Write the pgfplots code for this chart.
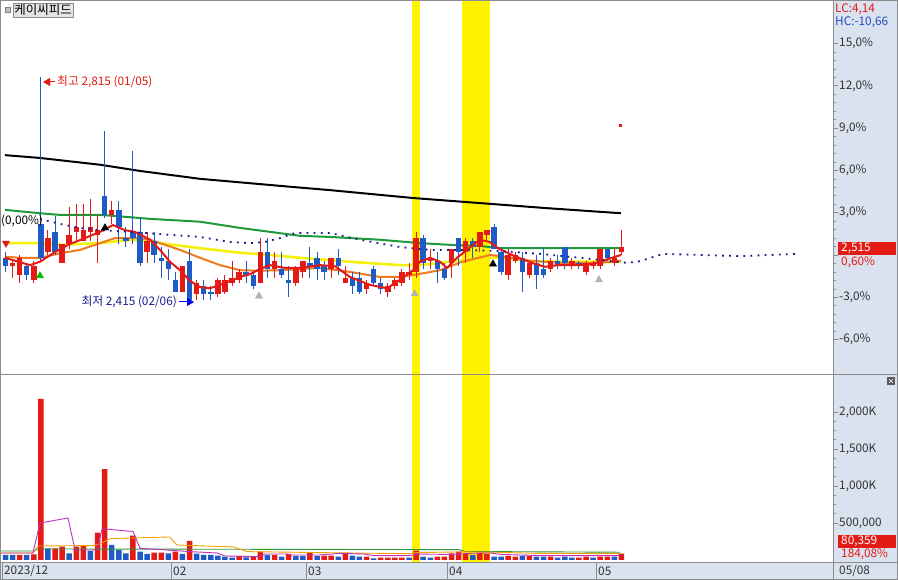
\documentclass[border=0pt]{standalone}
\usepackage{pgfplots}
\pgfplotsset{compat=1.18}
\usepackage{pgfplotstable}
\usetikzlibrary{arrows.meta}
\usepackage{fontspec}
\setmainfont{Noto Sans CJK KR}
\definecolor{cred}{HTML}{E41A14}
\definecolor{cblue}{HTML}{1F5BC6}
\definecolor{stripbg}{HTML}{D9E2EE}
\definecolor{frame}{HTML}{8C8C8C}
\definecolor{labgray}{HTML}{333333}
\definecolor{maorange}{HTML}{F07A1E}
\definecolor{mayellow}{HTML}{F5F20A}
\definecolor{magreen}{HTML}{1E9A3C}
\definecolor{navy}{HTML}{1A1A8C}
\definecolor{hcblue}{HTML}{2050C0}
\definecolor{vmag}{HTML}{C030C0}
\definecolor{vorange}{HTML}{F0A000}
\definecolor{vgreen}{HTML}{2E9A3A}

\pgfplotstableread{
i O H L C
1 2480 2490 2460 2485
2 2465 2500 2450 2495
4 2455 2490 2450 2480
6 2505 2545 2500 2530
8 2485 2520 2485 2520
9 2520 2585 2510 2535
10 2540 2590 2525 2550
11 2525 2590 2525 2545
12 2540 2600 2525 2550
13 2535 2570 2485 2545
15 2570 2595 2555 2580
20 2505 2540 2485 2525
25 2435 2480 2435 2480
27 2430 2455 2420 2450
30 2430 2460 2425 2455
31 2435 2465 2430 2455
32 2450 2490 2445 2460
33 2455 2475 2450 2470
36 2450 2530 2450 2505
38 2475 2505 2460 2490
41 2450 2480 2445 2475
42 2470 2490 2460 2490
46 2475 2495 2460 2495
48 2450 2480 2450 2460
51 2440 2455 2430 2450
54 2435 2450 2425 2445
55 2445 2460 2440 2455
56 2450 2475 2445 2470
57 2465 2485 2455 2470
58 2470 2540 2460 2530
60 2490 2510 2475 2495
63 2485 2510 2460 2510
65 2505 2530 2485 2525
67 2515 2540 2505 2540
68 2535 2545 2525 2545
71 2465 2510 2455 2500
72 2490 2505 2485 2500
74 2465 2490 2460 2485
77 2475 2495 2470 2490
80 2480 2495 2475 2490
82 2470 2490 2465 2485
83 2480 2490 2475 2485
84 2480 2510 2475 2510
86 2485 2510 2480 2495
87 2505 2545 2500 2515
}\upT

\pgfplotstableread{
i O H L C
0 2495 2505 2470 2480
3 2480 2485 2455 2465
5 2555 2815 2490 2495
7 2540 2570 2500 2505
14 2605 2720 2565 2570
16 2580 2595 2520 2550
17 2530 2550 2515 2525
18 2540 2685 2520 2530
19 2540 2565 2480 2485
21 2525 2540 2485 2500
22 2495 2515 2460 2490
23 2490 2510 2455 2475
24 2455 2470 2435 2435
26 2490 2510 2415 2420
28 2445 2455 2420 2430
29 2435 2445 2420 2430
34 2470 2490 2450 2465
35 2465 2470 2440 2445
37 2505 2530 2460 2475
39 2475 2505 2460 2465
40 2455 2480 2425 2450
43 2485 2515 2460 2480
44 2495 2505 2455 2475
45 2480 2490 2455 2470
47 2495 2510 2465 2480
49 2460 2470 2430 2445
50 2460 2470 2430 2435
52 2475 2480 2445 2450
53 2450 2460 2430 2440
59 2530 2535 2475 2485
61 2490 2505 2450 2475
62 2475 2485 2455 2460
64 2530 2530 2480 2505
66 2525 2530 2495 2515
69 2550 2555 2510 2510
70 2505 2515 2465 2470
73 2495 2505 2435 2470
75 2485 2500 2440 2465
76 2475 2515 2460 2465
78 2490 2500 2475 2480
79 2515 2515 2475 2485
81 2485 2490 2475 2480
85 2510 2510 2490 2495
}\downT

\pgfplotstableread{
i v
2 68
4 77
5 2175
7 158
8 180
10 180
11 194
13 369
14 1229
18 329
21 99
22 99
24 113
26 257
33 54
35 45
36 113
38 68
40 81
43 97
45 59
46 59
48 97
51 45
53 32
54 32
55 32
56 32
58 126
61 45
62 45
63 90
64 113
65 81
67 97
68 81
71 54
72 45
74 54
77 45
81 32
82 45
84 45
85 45
87 85
}\volR

\pgfplotstableread{
i v
0 68
1 68
3 68
6 158
9 90
12 122
15 203
16 135
17 90
19 113
20 81
23 90
25 81
27 86
28 68
29 68
30 59
31 45
32 32
34 36
37 68
39 45
41 54
42 54
44 54
47 45
49 59
50 45
52 23
57 32
59 45
60 32
66 68
69 45
70 45
73 54
75 45
76 45
78 32
79 45
80 32
83 32
86 45
}\volB

\pgfplotsset{
  candlewick/.style={draw=none, mark=none, forget plot,
    error bars/.cd, y dir=both, y explicit, error mark=none,
    error bar style={draw=#1, line width=1pt, solid}},
  candlebody/.style={draw=none, mark=none, forget plot,
    error bars/.cd, y dir=both, y explicit, error mark=none,
    error bar style={draw=#1, line width=5.5pt, solid}},
}
\newcommand{\lblfont}{\fontsize{11.8}{13}\selectfont}

\begin{document}
\begin{tikzpicture}[x=1pt,y=1pt]
\useasboundingbox (0,0) rectangle (898,580);
\fill[white] (0,0) rectangle (898,580);
\fill[stripbg] (833,0) rectangle (898,580);
\fill[stripbg] (0,0) rectangle (833,18);

% ---------------- price pane ----------------
\begin{axis}[at={(0pt,579pt)}, anchor=north west, scale only axis,
  width=833pt, height=373pt,
  xmin=-0.777, xmax=116.88, ymin=2289, ymax=2950.3,
  axis x line=none, axis y line*=right,
  axis line style={draw=frame, line width=0.8pt},
  ytick={2350,2425,2500,2575,2650,2725,2800,2875},
  yticklabels={{-6,0\%},{-3,0\%},{},{3,0\%},{6,0\%},{9,0\%},{12,0\%},{15,0\%}},
  minor y tick num=4,
  tick align=outside, major tick length=5pt, minor tick length=3pt,
  every tick/.style={draw=frame, line width=0.6pt},
  yticklabel style={font=\lblfont, text=labgray, inner sep=1pt},
  clip=true]
% highlight bands
\addplot[fill=yellow, draw=none, forget plot] coordinates {(57.4,2280) (58.5,2280) (58.5,2960) (57.4,2960)} -- cycle;
\addplot[fill=yellow, draw=none, forget plot] coordinates {(64.5,2280) (68.45,2280) (68.45,2960) (64.5,2960)} -- cycle;
% long MA lines
\addplot[black, line width=2pt] coordinates {(-0.07,2677) (4.87,2672) (13.35,2660) (19,2649) (27.47,2635) (40.18,2621) (45.83,2615) (57.56,2601) (67.02,2592) (76.48,2583) (86.93,2574)};
\addplot[magreen, line width=2pt] coordinates {(-0.07,2580) (4.87,2574) (7.7,2571) (13.35,2571) (17.59,2567) (20.41,2564) (27.47,2559) (33.12,2548) (37.36,2541) (41.59,2534) (45.83,2532) (52.9,2527) (58.55,2521) (62.78,2518) (67.02,2516) (69.84,2512) (78.32,2512) (86.93,2512)};
\addplot[mayellow, line width=2.6pt] coordinates {(-0.07,2521) (4.87,2521) (7.7,2518) (13.35,2521) (17.59,2527) (21.82,2521) (27.47,2512) (33.12,2504) (37.36,2500) (41.59,2495) (48.66,2488) (55.72,2482) (58.55,2482) (62.78,2488) (67.02,2495) (69.84,2495) (74.08,2489) (78.32,2488) (86.93,2488)};
\addplot[maorange, line width=2pt] coordinates {(-0.07,2497) (2.05,2495) (4.87,2495) (7.7,2503) (10.52,2509) (13.35,2521) (15.47,2530) (18.29,2530) (20.41,2527) (21.82,2521) (24.65,2509) (27.47,2495) (30.3,2482) (33.12,2473) (35.94,2472) (38.77,2473) (44.42,2477) (48.66,2470) (52.9,2461) (55.72,2461) (57.84,2465) (61.37,2473) (64.5,2488) (68.43,2500) (69.84,2498) (74.08,2490) (78.32,2486) (83.97,2486) (86.93,2490)};
% candles: wicks
\addplot[candlewick=cred]
  table[x=i, y expr=(\thisrow{H}+\thisrow{L})/2, y error expr=(\thisrow{H}-\thisrow{L})/2] {\upT};
\addplot[candlewick=cblue]
  table[x=i, y expr=(\thisrow{H}+\thisrow{L})/2, y error expr=(\thisrow{H}-\thisrow{L})/2] {\downT};
% candles: bodies
\addplot[candlebody=cred]
  table[x=i, y expr=(\thisrow{O}+\thisrow{C})/2, y error expr={max(abs(\thisrow{C}-\thisrow{O})/2,1.3)}] {\upT};
\addplot[candlebody=cblue]
  table[x=i, y expr=(\thisrow{O}+\thisrow{C})/2, y error expr={max(abs(\thisrow{C}-\thisrow{O})/2,1.3)}] {\downT};
% short MA
\addplot[cred, line width=2pt] coordinates {(-0.07,2495) (3.46,2482) (4.87,2488) (6.99,2505) (8.83,2518) (11.23,2530) (13.35,2541) (15.18,2553) (16.88,2544) (18.29,2541) (20.41,2527) (21.82,2509) (23.23,2488) (24.65,2473) (26.06,2454) (27.47,2443) (28.88,2441) (30.3,2447) (33.12,2461) (34.53,2466) (35.94,2475) (37.36,2482) (39.47,2477) (41.59,2477) (44.42,2482) (46.54,2480) (48.66,2461) (51.48,2447) (53.88,2441) (55.72,2456) (57.56,2473) (58.55,2488) (59.96,2495) (61.37,2488) (62.36,2477) (63.77,2495) (65.18,2509) (67.02,2527) (68.43,2523) (69.56,2512) (71.54,2500) (74.36,2486) (76.2,2479) (78.04,2482) (80.86,2482) (82.84,2484) (84.68,2491) (86.93,2500)};
% dotted line
\addplot[navy, line width=1.8pt, dash pattern=on 1.8pt off 5.3pt] coordinates {(4.87,2564) (7.7,2555) (10.52,2548) (13.35,2544) (17.59,2541) (21.82,2537) (27.47,2532) (31.71,2523) (34.53,2521) (36.65,2523) (38.77,2530) (40.89,2539) (45.83,2539) (50.07,2527) (55.72,2514) (59.96,2509) (64.19,2509) (69.84,2507) (75.49,2502) (81.14,2495) (87.78,2486) (89.62,2489) (92.87,2502) (98.09,2500) (103.74,2498) (111.93,2502)};
% signal marks
\addplot[only marks, mark=triangle*, mark size=4.2pt, color=green!75!black] coordinates {(4.87,2463)};
\addplot[only marks, mark=triangle*, mark size=4.2pt, color=black] coordinates {(14.05,2548) (68.85,2484)};
\addplot[only marks, mark=triangle*, mark size=4.2pt, color=black!30] coordinates {(35.8,2427) (57.8,2431) (83.82,2456)};
\addplot[only marks, mark=triangle*, mark size=4.2pt, color=cred, mark options={rotate=180}] coordinates {(0.07,2521)};
\addplot[only marks, mark=square*, mark size=1pt, color=cred] coordinates {(86.8,2730)};
\end{axis}

% ---------------- volume pane ----------------
\begin{axis}[at={(0pt,205pt)}, anchor=north west, scale only axis,
  width=833pt, height=187pt,
  xmin=-0.777, xmax=116.88, ymin=-27, ymax=2499,
  axis x line=none, axis y line*=right,
  axis line style={draw=frame, line width=0.8pt},
  ytick={500,1000,1500,2000},
  yticklabels={{500,000},{1,000K},{1,500K},{2,000K}},
  minor y tick num=3,
  tick align=outside, major tick length=5pt, minor tick length=3pt,
  every tick/.style={draw=frame, line width=0.6pt},
  yticklabel style={font=\lblfont, text=labgray, inner sep=1pt},
  clip=true]
\addplot[fill=yellow, draw=none, forget plot] coordinates {(57.4,-40) (58.5,-40) (58.5,2600) (57.4,2600)} -- cycle;
\addplot[fill=yellow, draw=none, forget plot] coordinates {(64.5,-40) (68.45,-40) (68.45,2600) (64.5,2600)} -- cycle;
\addplot[ybar, bar width=5.5pt, bar shift=0pt, fill=cred, draw=none] table[x=i, y=v] {\volR};
\addplot[ybar, bar width=5.5pt, bar shift=0pt, fill=cblue, draw=none] table[x=i, y=v] {\volB};
\addplot[vgreen, line width=0.9pt] coordinates {(-0.78,122) (3.9,122) (4.6,149) (64,140) (65,115) (86.8,105)};
\addplot[vorange, line width=0.9pt] coordinates {(-0.78,95) (3.9,95) (4.6,189) (12.4,195) (13.3,216) (14.8,290) (23.2,311) (24.2,203) (32.2,176) (34.1,113) (44.4,100) (57,85) (58,100) (65,110) (69,105) (75,90) (86.8,85)};
\addplot[vmag, line width=0.9pt] coordinates {(-0.78,95) (3.88,95) (4.87,500) (8.83,567) (9.82,135) (12.92,135) (13.63,414) (14.05,419) (18.0,385) (19.0,158) (22.8,135) (26.06,113) (29.87,95) (31.0,54) (35.95,45) (36.65,81) (39.76,81) (40.18,68) (44.42,68) (47.25,90) (50.5,81) (52,60) (57.1,60) (58,80) (63,75) (65.6,90) (68.4,95) (70,75) (75.5,60) (86.8,60)};
\end{axis}

% ---------------- frame and separators ----------------
\draw[frame, line width=0.8pt] (0,205.5) -- (898,205.5);
\draw[frame, line width=0.8pt] (0,18) -- (898,18);
\draw[frame, line width=0.8pt] (833,0) -- (833,580);
\draw[frame, line width=1pt] (0.5,0.5) rectangle (897.5,579.5);
\foreach \xx in {2,171,306,447,596} {\draw[frame, line width=0.6pt] (\xx,0) -- (\xx,18);}

% bottom labels
\begin{scope}[every node/.style={font=\lblfont, text=labgray, anchor=west, inner sep=1pt}]
\node at (3,9) {2023/12};
\node at (172,9) {02};
\node at (307,9) {03};
\node at (448,9) {04};
\node at (597,9) {05};
\node at (838,9) {05/08};
\end{scope}

% title box
\filldraw[fill=black!25, draw=black!50] (5,568) rectangle (10,573);
\node[draw=black!45, fill=black!10, anchor=west, inner sep=1.2pt, font=\fontsize{12.5}{13}\selectfont] at (13,570) {케이씨피드};

% high / low annotations
\draw[cred, line width=1pt, -{Triangle[length=7pt,width=8pt]}] (55,498) -- (43,498);
\node[cred, anchor=west, inner sep=0pt, font=\lblfont] at (57,498) {최고 2,815 (01/05)};
\node[navy, anchor=east, inner sep=0pt, font=\lblfont] at (177,278) {최저 2,415 (02/06)};
\draw[blue, line width=1pt, -{Triangle[length=7pt,width=8pt]}] (179,278) -- (194,278);
\node[black, anchor=west, inner sep=0pt, font=\lblfont] at (1,359) {(0,00\%)};

% right-side info
\begin{scope}[every node/.style={anchor=west, inner sep=0pt, font=\lblfont}]
\node[cred] at (835,571) {LC:4,14};
\node[hcblue] at (835,558) {HC:-10,66};
\fill[cred] (838,325) rectangle (896,338);
\node[white] at (841,331.5) {2,515};
\node[cred] at (841,318) {0,60\%};
\fill[cred] (838,32) rectangle (896,45);
\node[white] at (841,38.5) {80,359};
\node[cred] at (841,26) {184,08\%};
\end{scope}
\fill[black!65] (887,195) rectangle (895,203);
\draw[white, line width=0.6pt] (889,197) -- (893,201) (889,201) -- (893,197);
\end{tikzpicture}
\end{document}
